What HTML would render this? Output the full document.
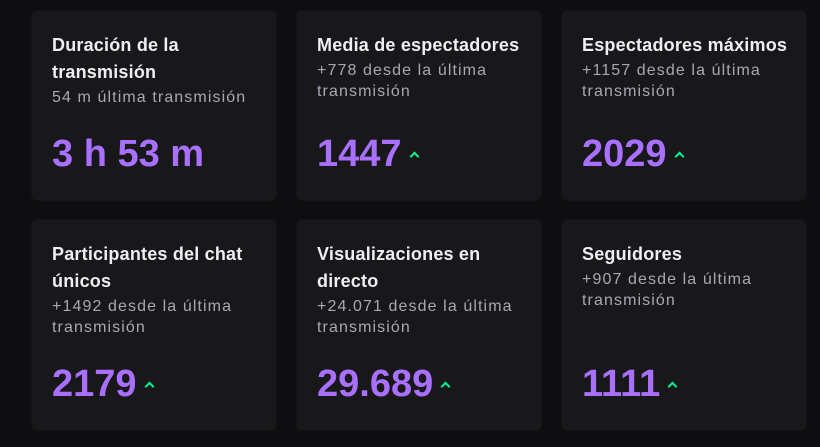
<!DOCTYPE html>
<html><head><meta charset="utf-8"><style>
body{margin:0;width:820px;height:447px;background:#0e0e10;font-family:"Liberation Sans",sans-serif;overflow:hidden;position:relative}
.card{position:absolute;width:244px;background:#18181b;border-radius:5px;box-shadow:0 0 0 1px #141416}
.t{position:absolute;left:20px;top:21px;color:#efeff1;font-weight:bold;font-size:18px;letter-spacing:0.2px;line-height:27px;white-space:nowrap}
.s{color:#a8a8b3;font-weight:normal;font-size:16px;letter-spacing:1.1px;line-height:21px;margin-top:1px}
.n{position:absolute;left:20px;bottom:26px;color:#a970ff;font-weight:bold;font-size:38px;line-height:40px;white-space:nowrap}
.a{display:inline-block;width:5px;height:5px;border-left:2px solid #00f593;border-top:2px solid #00f593;transform:rotate(45deg);margin-left:9px;vertical-align:6px}
</style></head><body>
<div class="card" style="left:32px;top:11px;height:189px"><div class="t">Duración de la<br>transmisión<div class="s">54 m última transmisión</div></div><div class="n">3 h 53 m</div></div>
<div class="card" style="left:297px;top:11px;height:189px"><div class="t">Media de espectadores<div class="s">+778 desde la última<br>transmisión</div></div><div class="n">1447<span class="a"></span></div></div>
<div class="card" style="left:562px;top:11px;height:189px"><div class="t">Espectadores máximos<div class="s">+1157 desde la última<br>transmisión</div></div><div class="n">2029<span class="a"></span></div></div>
<div class="card" style="left:32px;top:220px;height:210px"><div class="t">Participantes del chat<br>únicos<div class="s">+1492 desde la última<br>transmisión</div></div><div class="n">2179<span class="a"></span></div></div>
<div class="card" style="left:297px;top:220px;height:210px"><div class="t">Visualizaciones en<br>directo<div class="s">+24.071 desde la última<br>transmisión</div></div><div class="n">29.689<span class="a"></span></div></div>
<div class="card" style="left:562px;top:220px;height:210px"><div class="t">Seguidores<div class="s">+907 desde la última<br>transmisión</div></div><div class="n">1111<span class="a"></span></div></div>
</body></html>
